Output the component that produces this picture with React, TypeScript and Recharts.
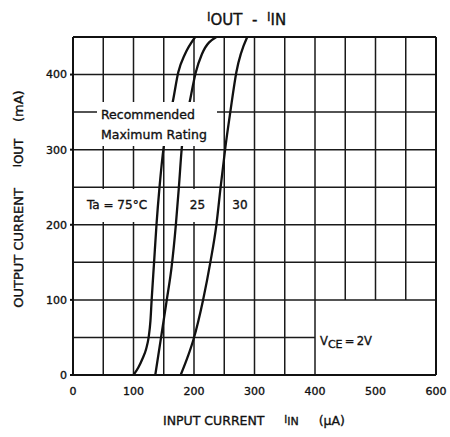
import React from "react";
import { LineChart, Line, XAxis, YAxis, ReferenceLine } from "recharts";

// curves: input current (uA) vs output current (mA)
const curve75 = [
  { x: 100, y: 0 }, { x: 108, y: 10 }, { x: 115, y: 22 }, { x: 121, y: 35 },
  { x: 125, y: 50 }, { x: 128, y: 72 }, { x: 130, y: 100 }, { x: 134, y: 150 },
  { x: 138, y: 200 }, { x: 143, y: 250 }, { x: 150, y: 304 }, { x: 157, y: 335 },
  { x: 165, y: 364 }, { x: 174, y: 403 }, { x: 185, y: 427 }, { x: 202, y: 450 },
];
const curve25 = [
  { x: 136, y: 0 }, { x: 145, y: 47 }, { x: 155, y: 100 }, { x: 163, y: 144 },
  { x: 170, y: 200 }, { x: 175, y: 250 }, { x: 180, y: 304 }, { x: 186, y: 335 },
  { x: 193, y: 364 }, { x: 203, y: 403 }, { x: 213, y: 427 }, { x: 237, y: 450 },
];
const curve30 = [
  { x: 178, y: 0 }, { x: 190, y: 25 }, { x: 199, y: 47 }, { x: 215, y: 100 },
  { x: 227, y: 150 }, { x: 237, y: 200 }, { x: 244, y: 250 }, { x: 252, y: 304 },
  { x: 260, y: 350 }, { x: 270, y: 403 }, { x: 288, y: 450 },
];

const xTicks = [0, 100, 200, 300, 400, 500, 600];
const yTicks = [0, 100, 200, 300, 400];
const gridX = [50, 100, 150, 200, 250, 300, 350, 400, 450, 500, 550];
const gridY = [50, 100, 150, 200, 250, 300, 350, 400];

const FONT = "'DejaVu Sans', sans-serif";
const INK = "#111";

const abs = (left: number, top: number): React.CSSProperties => ({
  position: "absolute",
  left,
  top,
  fontFamily: FONT,
  color: INK,
  whiteSpace: "nowrap",
  WebkitTextStroke: "0.35px #111",
});

const tickStyle = { fontSize: 11, fill: INK, fontFamily: FONT, stroke: INK, strokeWidth: 0.35 };

export default function App() {
  return (
    <div style={{ position: "absolute", left: 0, top: 0, width: 450, height: 437, background: "#fff" }}>
      <LineChart width={450} height={437} margin={{ top: 37, right: 14, bottom: 0, left: 0 }}>
        <XAxis
          type="number"
          dataKey="x"
          domain={[0, 600]}
          ticks={xTicks}
          height={62}
          stroke={INK}
          strokeWidth={2}
          tickLine={false}
          tickSize={6}
          tickMargin={6}
          tick={tickStyle}
          allowDataOverflow
        />
        <YAxis
          type="number"
          dataKey="y"
          domain={[0, 450]}
          ticks={yTicks}
          width={73}
          stroke={INK}
          strokeWidth={2}
          tickSize={3}
          tickMargin={3}
          tick={tickStyle}
          allowDataOverflow
        />
        {gridX.map((v) => (
          <ReferenceLine
            key={"gx" + v}
            segment={v > 400 ? [{ x: v, y: 100 }, { x: v, y: 450 }] : [{ x: v, y: 0 }, { x: v, y: 450 }]}
            stroke="#1a1a1a"
            strokeWidth={1.5}
          />
        ))}
        {gridY.map((v) => (
          <ReferenceLine
            key={"gy" + v}
            segment={v < 100 ? [{ x: 0, y: v }, { x: 400, y: v }] : [{ x: 0, y: v }, { x: 600, y: v }]}
            stroke="#1a1a1a"
            strokeWidth={1.5}
          />
        ))}
        <ReferenceLine y={450} stroke={INK} strokeWidth={2} />
        <ReferenceLine x={600} stroke={INK} strokeWidth={2} />
        <Line data={curve75} dataKey="y" type="monotone" stroke={INK} strokeWidth={2.3} dot={false} isAnimationActive={false} />
        <Line data={curve25} dataKey="y" type="monotone" stroke={INK} strokeWidth={2.3} dot={false} isAnimationActive={false} />
        <Line data={curve30} dataKey="y" type="monotone" stroke={INK} strokeWidth={2.3} dot={false} isAnimationActive={false} />
      </LineChart>

      {/* title */}
      <div style={{ ...abs(207, 11), fontSize: 15 }}>
        <span style={{ fontSize: 12, position: "relative", top: -4 }}>I</span>OUT&nbsp;&nbsp;-&nbsp;&nbsp;
        <span style={{ fontSize: 12, position: "relative", top: -4 }}>I</span>IN
      </div>

      {/* annotations */}
      <div style={{ ...abs(97, 102), width: 120, height: 44, background: "#fff", fontSize: 12.5, lineHeight: "20px", padding: "3px 0 0 4px", boxSizing: "border-box" }}>
        Recommended
        <br />
        Maximum Rating
      </div>
      <div style={{ ...abs(85, 189), width: 64, height: 33, background: "#fff", fontSize: 12, lineHeight: "33px", textAlign: "center" }}>
        Ta = 75°C
      </div>
      <div style={{ ...abs(187, 189), width: 21, height: 33, background: "#fff", fontSize: 12, lineHeight: "33px", textAlign: "center" }}>
        25
      </div>
      <div style={{ ...abs(229, 189), width: 22, height: 33, background: "#fff", fontSize: 12, lineHeight: "33px", textAlign: "center" }}>
        30
      </div>
      <div style={{ ...abs(320, 334), fontSize: 11.5 }}>
        V<sub style={{ fontSize: 11, verticalAlign: "-3px" }}>CE</sub>{"\u2009=\u20092V"}
      </div>

      {/* axis titles */}
      <div style={{ ...abs(163, 413), fontSize: 12.5 }}>
        INPUT CURRENT&nbsp;&nbsp;&nbsp;&nbsp;&nbsp;
        <span style={{ fontSize: 10, position: "relative", top: -2 }}>I</span>
        <span style={{ fontSize: 11 }}>IN</span>&nbsp;&nbsp;&nbsp;&nbsp;&nbsp;(µA)
      </div>
      <div
        style={{
          ...abs(18, 199),
          fontSize: 13,
          transform: "translate(-50%, -50%) rotate(-90deg)",
        }}
      >
        OUTPUT CURRENT&nbsp;&nbsp;&nbsp;&nbsp;&nbsp;
        <span style={{ fontSize: 11, position: "relative", top: -2 }}>I</span>
        <span style={{ fontSize: 12 }}>OUT</span>&nbsp;&nbsp;&nbsp;&nbsp;(mA)
      </div>
    </div>
  );
}
